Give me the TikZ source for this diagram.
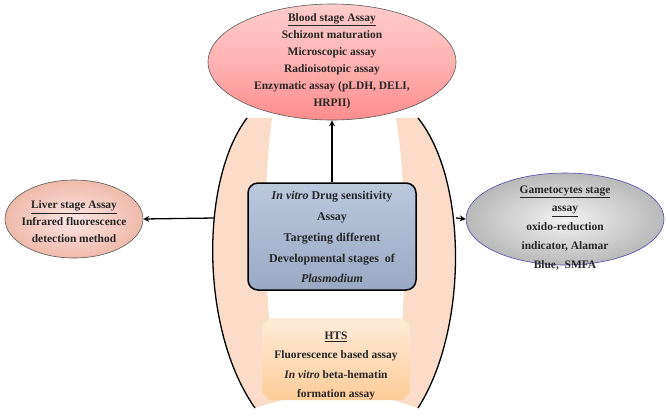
\documentclass[tikz,border=0pt]{standalone}
\usepackage{fontspec}
\setmainfont{Liberation Serif}
\usetikzlibrary{shapes.geometric,arrows.meta,shadings}
\definecolor{peach}{HTML}{FBDCC8}
\definecolor{blueg}{HTML}{8FA3C8}
\begin{document}
\begin{tikzpicture}[x=1bp,y=-1bp,
  txt/.style={font=\fontsize{11.5}{17}\selectfont\bfseries,align=center,text=black!85},
  ell/.style={ellipse,draw=gray!70!black,line width=0.6pt},
  arr/.style={-{Stealth[length=6pt,width=6pt]},line width=1.3pt}]
\useasboundingbox (0,0) rectangle (666,416);
% crescents
\path[fill=peach] (247,118) .. controls (200,180) and (200,330) .. (255,408)
  -- (282,400) .. controls (262,320) and (262,190) .. (272,118) -- cycle;
\draw[line width=1.3pt] (247,118) .. controls (200,180) and (200,330) .. (255,408);
\path[fill=peach] (418,118) .. controls (468,180) and (468,330) .. (418,408)
  -- (393,400) .. controls (408,320) and (408,190) .. (396,118) -- cycle;
\draw[line width=1.3pt] (418,118) .. controls (468,180) and (468,330) .. (418,408);
\coordinate (lc) at (214,218);
\coordinate (rc) at (456,218);
% blood ellipse
\node[ell,minimum width=248bp,minimum height=116bp,top color=red!20,bottom color=red!45,middle color=red!30] (blood) at (332,62) {};
\node[txt] (bloodt) at (332,61) {\underline{Blood stage Assay}\\Schizont maturation\\Microscopic assay\\Radioisotopic assay\\Enzymatic assay (pLDH, DELI,\\HRPII)};
% liver
\node[ell,minimum width=138bp,minimum height=78bp,inner color=red!10,outer color=red!35!brown!40] (liver) at (74,219) {};
\node[txt] (livert) at (74,222) {\underline{Liver stage Assay}\\Infrared fluorescence\\detection method};
% gametocytes
\node[ell,draw=blue!40!gray,minimum width=198bp,minimum height=92bp,inner color=gray!10,outer color=gray!55] (game) at (565,219) {};
\node[txt,font=\fontsize{11.5}{19}\selectfont\bfseries] (gamet) at (565,228) {\underline{Gametocytes stage}\\\underline{assay}\\oxido-reduction\\indicator, Alamar\\Blue,\ \ SMFA};
% center box
\node[draw=black,line width=1.5pt,rounded corners=10bp,minimum width=168bp,minimum height=107bp,top color=blueg!60,bottom color=blueg!90!black!80] (center) at (332,236.5) {};
\node[txt,font=\fontsize{12}{21}\selectfont\bfseries] (centert) at (332,237) {\textit{In vitro} Drug sensitivity\\Assay\\Targeting different\\Developmental stages\ \ of\\\textit{Plasmodium}};
% HTS
\path[top color=orange!15,bottom color=orange!40] (270,318) -- (402,318) -- (410,326) -- (410,392) -- (402,400) -- (270,400) -- (262,392) -- (262,326) -- cycle;
\node[txt,font=\fontsize{11.5}{19.5}\selectfont\bfseries] (hts) at (336,366) {\underline{HTS}\\Fluorescence based assay\\\textit{In vitro} beta-hematin\\formation assay};
% arrows
\draw[arr] (center.north) -- (blood.south);
\draw[arr] (lc) -- (liver.east);
\draw[arr] (rc) -- (game.west);
\end{tikzpicture}
\end{document}
